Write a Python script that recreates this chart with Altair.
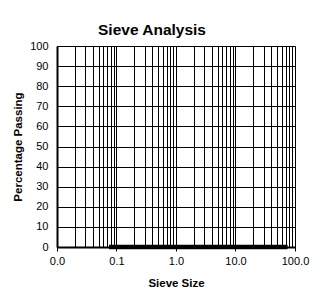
import altair as alt
import pandas as pd

sieve_sizes = [0.075, 0.15, 0.3, 0.6, 1.18, 2.36, 4.75, 9.5, 19.0, 37.5, 75.0]
percent_passing = [0, 0, 0, 0, 0, 0, 0, 0, 0, 0, 0]
x_grid = [m * 10 ** e for e in range(-2, 2) for m in range(1, 10)] + [100]
y_ticks = list(range(0, 101, 10))

df = pd.DataFrame({"size": sieve_sizes, "pct": percent_passing})

decade_test = "abs(log(datum.value)/LN10 - round(log(datum.value)/LN10)) < 0.000001"

chart = alt.Chart(df).mark_line(color="black", strokeWidth=4.5, clip=False).encode(
    x=alt.X("size:Q",
            scale=alt.Scale(type="log", domain=[0.01, 100], nice=False),
            axis=alt.Axis(values=x_grid, format=".1f",
                          labelExpr=f"({decade_test}) ? format(datum.value, '.1f') : ''",
                          title="Sieve Size", titleFontWeight="bold", titleFontSize=11.5,
                          titleFont="Liberation Sans", titleColor="black", titlePadding=11,
                          labelFont="Liberation Sans", labelFontSize=11, labelColor="black",
                          labelPadding=4, labelFlush=False, labelOverlap=False,
                          tickSize=4, tickColor={"condition": {"test": decade_test, "value": "black"}, "value": "transparent"},
                          grid=True, gridColor="black", gridWidth=1, gridOpacity=1,
                          domainColor="black", domainWidth=2, zindex=0)),
    y=alt.Y("pct:Q",
            scale=alt.Scale(domain=[0, 100], nice=False),
            axis=alt.Axis(values=y_ticks, title="Percentage Passing",
                          titleFontWeight="bold", titleFontSize=11.5, titleFont="Liberation Sans",
                          titleColor="black", titlePadding=6,
                          labelFont="Liberation Sans", labelFontSize=11, labelColor="black",
                          labelPadding=9, ticks=False, labelFlush=False,
                          grid=True, gridColor="black", gridWidth=1, gridOpacity=1,
                          domainColor="black", domainWidth=2)),
).properties(
    width=238, height=201,
    title=alt.TitleParams("Sieve Analysis", font="Liberation Sans", fontSize=15.5,
                          fontWeight="bold", color="black", anchor="middle", dx=-24, offset=2),
    autosize="none",
    padding={"left": 49, "top": 38, "right": 23, "bottom": 40},
).configure_view(stroke="black", strokeWidth=2).configure(background="white")

chart.save("out.html", embed_options={"renderer": "svg", "actions": False})
